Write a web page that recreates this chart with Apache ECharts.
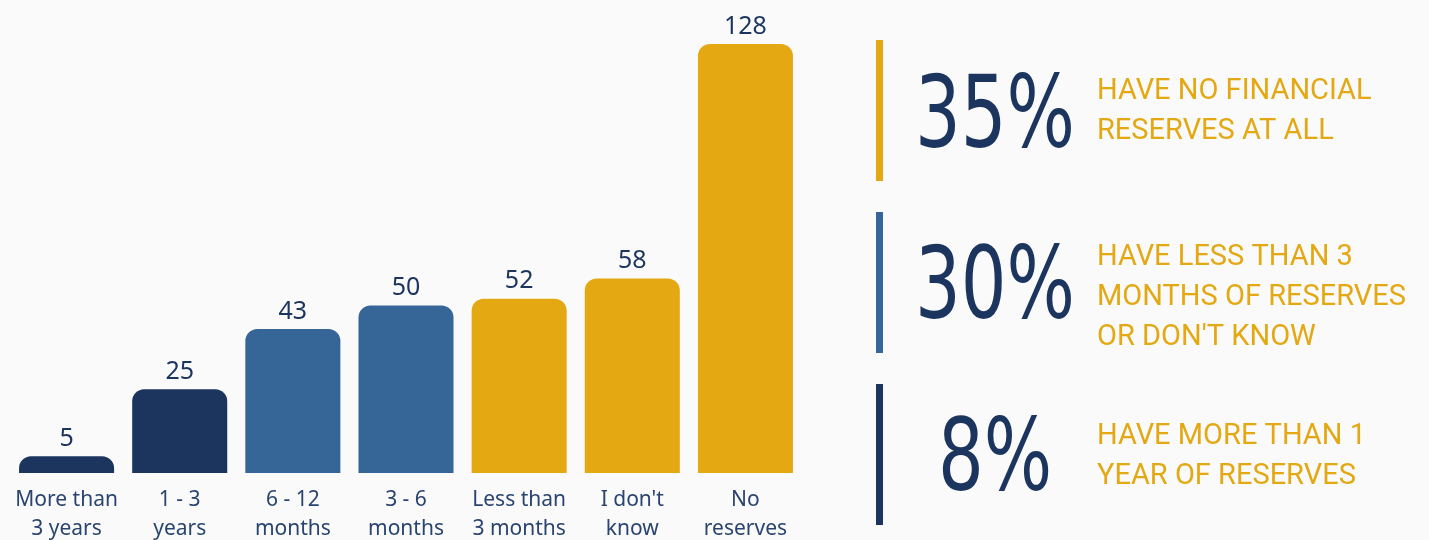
<!DOCTYPE html>
<html>
<head>
<meta charset="utf-8">
<script src="https://cdn.jsdelivr.net/npm/echarts@6/dist/echarts.min.js"></script>
<style>
  html, body { margin: 0; padding: 0; background: #fafafa; }
  #chart { width: 1429px; height: 540px; }
</style>
</head>
<body>
<div id="chart"></div>
<script>
const categories = ['More than\n3 years', '1 - 3\nyears', '6 - 12\nmonths', '3 - 6\nmonths', 'Less than\n3 months', "I don't\nknow", 'No\nreserves']
const values = [5, 25, 43, 50, 52, 58, 128]
const barGroup = [0, 0, 1, 1, 2, 2, 2]
const statPercents = ['35%', '30%', '8%']
const statCaptions = ['HAVE NO FINANCIAL\nRESERVES AT ALL', 'HAVE LESS THAN 3\nMONTHS OF RESERVES\nOR DON\'T KNOW', 'HAVE MORE THAN 1\nYEAR OF RESERVES']
const statGroup = [2, 1, 0]

const palette = ['#1c355e', '#356697', '#e3a812']
const navy = '#1c355e'
const gold = '#e3a812'

const chart = echarts.init(document.getElementById('chart'))

// right-hand stat panels
const graphic = []
const panelTop = [40, 212, 384]
const pctY = [121, 292, 464]
const capY = [112, 298, 457]
statPercents.forEach((p, i) => {
  graphic.push({
    type: 'rect',
    shape: { x: 876, y: panelTop[i], width: 7, height: 141 },
    style: { fill: palette[statGroup[i]] }
  })
  graphic.push({
    type: 'text',
    x: 995, y: pctY[i],
    scaleX: 0.8,
    style: {
      text: p, fill: navy,
      font: 'normal 100px "Liberation Sans Narrow", "DejaVu Sans Condensed", sans-serif',
      align: 'center', verticalAlign: 'middle'
    }
  })
  graphic.push({
    type: 'text',
    x: 1097, y: capY[i],
    style: {
      text: statCaptions[i], fill: gold,
      font: 'normal 29px Roboto, sans-serif',
      lineHeight: 40,
      align: 'left', verticalAlign: 'middle'
    }
  })
})

chart.setOption({
  backgroundColor: '#fafafa',
  animation: false,
  grid: { left: 10, width: 792, top: 44, bottom: 67, outerBoundsMode: 'none', containLabel: false },
  xAxis: {
    type: 'category',
    data: categories,
    axisLine: { show: false },
    axisTick: { show: false },
    axisLabel: {
      color: '#2a4470', fontSize: 21, lineHeight: 29, margin: 13,
      fontFamily: '"Noto Sans", sans-serif', interval: 0
    }
  },
  yAxis: { type: 'value', min: 0, max: 128, show: false },
  series: [{
    type: 'bar',
    barCategoryGap: '16%',
    data: values.map((v, i) => ({ value: v, itemStyle: { color: palette[barGroup[i]] } })),
    itemStyle: { borderRadius: [12, 12, 0, 0] },
    label: {
      show: true, position: 'top', distance: 5,
      color: navy, fontSize: 25,
      fontFamily: '"Noto Sans", sans-serif'
    }
  }],
  graphic
})
</script>
</body>
</html>
